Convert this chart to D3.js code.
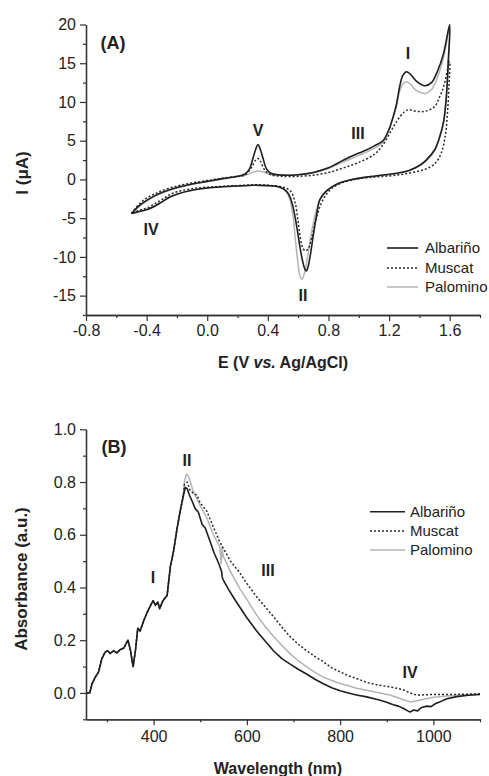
<!DOCTYPE html>
<html>
<head>
<meta charset="utf-8">
<script src="https://cdn.jsdelivr.net/npm/d3@7"></script>
<style>
  body { margin: 0; background: #fff; }
  svg { font-family: "Liberation Sans", Arial, sans-serif; }
</style>
</head>
<body>
<script>
// ---- panel A: cyclic voltammograms, [E (V), I (uA)] ----
const albarinoFwd = [[-0.5,-4.4],[-0.45,-3.4],[-0.4,-2.7],[-0.35,-2.15],[-0.3,-1.7],[-0.2,-1.05],[-0.1,-0.6],[0.0,-0.25],[0.1,0.1],[0.2,0.4],[0.25,0.7],[0.28,1.4],[0.3,2.6],[0.32,3.9],[0.335,4.5],[0.35,3.9],[0.37,2.6],[0.39,1.4],[0.42,0.8],[0.5,0.55],[0.6,0.6],[0.7,0.9],[0.8,1.5],[0.86,2.1],[0.94,2.9],[1.0,3.4],[1.05,3.8],[1.1,4.3],[1.16,5.0],[1.2,6.5],[1.23,8.3],[1.25,9.8],[1.27,12.0],[1.29,13.4],[1.315,13.9],[1.34,13.6],[1.38,12.7],[1.435,12.1],[1.48,12.5],[1.52,14.0],[1.56,16.3],[1.6,20.0]];
const albarinoRev = [[1.6,20.0],[1.59,15.0],[1.578,10.7],[1.56,7.5],[1.534,5.5],[1.5,3.8],[1.445,2.5],[1.4,1.8],[1.336,1.2],[1.25,0.8],[1.16,0.57],[1.05,0.3],[0.94,-0.08],[0.88,-0.4],[0.82,-1.0],[0.78,-1.6],[0.743,-2.6],[0.72,-4.8],[0.7,-7.2],[0.68,-9.8],[0.665,-11.3],[0.655,-11.8],[0.645,-11.6],[0.63,-10.6],[0.611,-8.6],[0.59,-6.0],[0.567,-3.6],[0.545,-2.2],[0.522,-1.5],[0.48,-1.0],[0.4,-0.8],[0.3,-0.75],[0.2,-0.85],[0.1,-0.95],[0.0,-1.1],[-0.1,-1.4],[-0.2,-1.9],[-0.25,-2.3],[-0.3,-2.9],[-0.35,-3.5],[-0.4,-3.9],[-0.45,-4.15],[-0.5,-4.4]];

const muscatFwd = [[-0.5,-4.4],[-0.45,-3.2],[-0.4,-2.4],[-0.35,-1.9],[-0.3,-1.45],[-0.2,-0.85],[-0.1,-0.45],[0.0,-0.15],[0.1,0.15],[0.2,0.4],[0.25,0.6],[0.29,1.5],[0.32,2.5],[0.335,2.7],[0.35,2.4],[0.38,1.2],[0.42,0.6],[0.5,0.4],[0.6,0.4],[0.7,0.55],[0.8,0.9],[0.9,1.5],[1.0,2.2],[1.1,3.2],[1.15,4.2],[1.2,5.8],[1.25,7.5],[1.3,8.7],[1.33,9.0],[1.38,8.8],[1.44,8.8],[1.5,9.4],[1.53,10.5],[1.56,12.0],[1.6,15.2]];
const muscatRev = [[1.6,15.2],[1.595,12.0],[1.585,8.5],[1.57,5.5],[1.54,3.2],[1.5,2.0],[1.45,1.4],[1.4,1.1],[1.3,0.7],[1.2,0.45],[1.1,0.3],[1.0,0.1],[0.95,-0.1],[0.88,-0.5],[0.82,-1.2],[0.78,-2.1],[0.75,-3.2],[0.72,-5.0],[0.69,-7.5],[0.665,-9.0],[0.645,-9.2],[0.625,-8.5],[0.6,-5.5],[0.58,-3.0],[0.55,-1.5],[0.5,-1.0],[0.4,-0.75],[0.3,-0.7],[0.2,-0.8],[0.1,-0.9],[0.0,-1.0],[-0.1,-1.2],[-0.2,-1.6],[-0.25,-2.0],[-0.3,-2.6],[-0.35,-3.2],[-0.4,-3.7],[-0.45,-4.0],[-0.5,-4.4]];

const palominoFwd = [[-0.5,-4.4],[-0.45,-3.5],[-0.4,-2.8],[-0.35,-2.2],[-0.3,-1.75],[-0.2,-1.1],[-0.1,-0.65],[0.0,-0.3],[0.1,0.05],[0.2,0.35],[0.25,0.55],[0.3,0.9],[0.335,1.1],[0.37,0.95],[0.42,0.65],[0.5,0.55],[0.6,0.6],[0.7,0.85],[0.8,1.4],[0.86,1.95],[0.94,2.6],[1.0,3.1],[1.05,3.5],[1.1,4.0],[1.16,4.8],[1.2,6.4],[1.23,8.2],[1.25,9.6],[1.27,11.4],[1.29,12.3],[1.315,12.6],[1.34,12.3],[1.38,11.5],[1.44,11.1],[1.48,11.6],[1.52,13.2],[1.56,15.8],[1.6,19.6]];
const palominoRev = [[1.6,19.6],[1.59,14.8],[1.578,10.6],[1.56,7.4],[1.534,5.4],[1.5,3.7],[1.445,2.4],[1.4,1.75],[1.336,1.15],[1.25,0.75],[1.16,0.55],[1.05,0.3],[0.94,-0.1],[0.88,-0.45],[0.82,-1.05],[0.78,-1.7],[0.743,-2.7],[0.72,-4.0],[0.7,-5.6],[0.68,-7.8],[0.66,-10.2],[0.64,-12.2],[0.625,-12.9],[0.61,-12.3],[0.595,-10.2],[0.58,-7.4],[0.567,-4.8],[0.545,-2.6],[0.522,-1.6],[0.48,-1.05],[0.4,-0.8],[0.3,-0.75],[0.2,-0.85],[0.1,-0.95],[0.0,-1.1],[-0.1,-1.4],[-0.2,-1.9],[-0.25,-2.3],[-0.3,-2.9],[-0.35,-3.5],[-0.4,-3.9],[-0.45,-4.15],[-0.5,-4.4]];

// ---- panel B: UV-vis spectra, [wavelength (nm), absorbance] ----
const spectrumCommon = [[256,0.0],[263,0.0],[268,0.035],[275,0.06],[282,0.08],[289,0.13],[296,0.155],[301,0.16],[307,0.15],[314,0.16],[321,0.152],[329,0.165],[336,0.17],[345,0.2],[350,0.165],[356,0.1],[361,0.16],[366,0.245],[371,0.235],[379,0.275],[386,0.305],[393,0.33],[399,0.35],[404,0.332],[409,0.345],[413,0.32],[420,0.35],[429,0.37],[436,0.48],[443,0.54],[450,0.62],[457,0.69],[464,0.75]];
const albarinoTail = [[468,0.78],[472,0.775],[477,0.75],[482,0.73],[489,0.70],[496,0.685],[504,0.64],[511,0.625],[521,0.575],[530,0.53],[540,0.49],[546,0.46],[547,0.44],[549,0.43],[560,0.395],[572,0.36],[585,0.325],[600,0.285],[621,0.235],[640,0.195],[657,0.16],[675,0.13],[692,0.11],[710,0.09],[728,0.072],[746,0.052],[764,0.035],[782,0.02],[800,0.008],[818,0.0],[835,-0.008],[857,-0.015],[880,-0.025],[900,-0.035],[914,-0.045],[925,-0.05],[935,-0.058],[945,-0.068],[950,-0.072],[958,-0.065],[966,-0.068],[975,-0.055],[986,-0.05],[995,-0.052],[1005,-0.04],[1015,-0.033],[1029,-0.022],[1050,-0.014],[1075,-0.009],[1100,-0.006]];
const muscatTail = [[466,0.79],[472,0.80],[478,0.77],[485,0.757],[493,0.75],[500,0.72],[507,0.705],[514,0.69],[521,0.66],[528,0.63],[540,0.58],[549,0.55],[565,0.5],[585,0.455],[600,0.415],[621,0.365],[640,0.325],[657,0.29],[675,0.25],[692,0.215],[710,0.185],[728,0.16],[746,0.138],[764,0.118],[782,0.095],[800,0.08],[818,0.065],[835,0.055],[857,0.04],[880,0.03],[900,0.025],[921,0.018],[935,0.012],[950,0.0],[964,-0.008],[1000,-0.006],[1036,-0.006],[1071,-0.005],[1100,-0.003]];
const palominoTail = [[466,0.8],[470,0.83],[474,0.825],[479,0.8],[484,0.77],[489,0.75],[500,0.71],[514,0.665],[528,0.6],[542,0.555],[545,0.49],[547,0.555],[549,0.52],[565,0.46],[585,0.395],[600,0.355],[621,0.295],[640,0.25],[657,0.215],[675,0.18],[692,0.15],[710,0.122],[728,0.1],[746,0.078],[764,0.06],[782,0.047],[800,0.036],[818,0.027],[835,0.018],[857,0.01],[880,0.002],[907,-0.008],[930,-0.022],[950,-0.034],[970,-0.028],[1000,-0.016],[1030,-0.012],[1060,-0.008],[1100,-0.004]];

const seriesNames = ['Albariño', 'Muscat', 'Palomino'];
const cvTicksX = [-0.8, -0.4, 0.0, 0.4, 0.8, 1.2, 1.6];
const cvTicksY = [-15, -10, -5, 0, 5, 10, 15, 20];
const uvTicksX = [400, 600, 800, 1000];
const uvTicksY = [0.0, 0.2, 0.4, 0.6, 0.8, 1.0];

const styles = {
  'Albariño': { stroke: '#1e1e1e', width: 1.6, dash: null },
  'Muscat':   { stroke: '#2a2a2a', width: 1.5, dash: '2,2' },
  'Palomino': { stroke: '#b4b4b4', width: 1.5, dash: null },
};
const drawOrder = ['Palomino', 'Muscat', 'Albariño'];

function main() {
  const width = 489;
  const height = 776;
  const svg = d3.select('body').append('svg')
    .attr('width', width)
    .attr('height', height);

  const axisColor = '#333';
  const textColor = '#222';

  function styleAxis(g) {
    g.selectAll('path.domain').attr('stroke', axisColor).attr('stroke-width', 1.3);
    g.selectAll('.tick line').attr('stroke', axisColor).attr('stroke-width', 1.2);
    g.selectAll('.tick text').attr('fill', textColor).style('font-size', '16px')
      .style('font-family', '"Liberation Sans", Arial, sans-serif');
  }

  function drawAxes(x, y, xMajor, xMinor, yMajor, yMinor, fmtX, fmtY, xPad) {
    const y0 = y.range()[0];
    const x0 = x.range()[0];
    svg.append('g').attr('transform', `translate(0,${y0})`)
      .call(d3.axisBottom(x).tickValues(xMinor).tickSize(3).tickSizeOuter(0).tickFormat(''))
      .call(styleAxis);
    svg.append('g').attr('transform', `translate(0,${y0})`)
      .call(d3.axisBottom(x).tickValues(xMajor).tickSize(6).tickSizeOuter(0).tickPadding(xPad).tickFormat(fmtX))
      .call(styleAxis);
    svg.append('g').attr('transform', `translate(${x0},0)`)
      .call(d3.axisLeft(y).tickValues(yMinor).tickSize(3).tickSizeOuter(0).tickFormat(''))
      .call(styleAxis);
    svg.append('g').attr('transform', `translate(${x0},0)`)
      .call(d3.axisLeft(y).tickValues(yMajor).tickSize(6).tickSizeOuter(0).tickPadding(4).tickFormat(fmtY))
      .call(styleAxis);
  }

  function drawLegend(x1, x2, tx, rows) {
    seriesNames.forEach((name, i) => {
      const s = styles[name];
      svg.append('line')
        .attr('x1', x1).attr('x2', x2).attr('y1', rows[i]).attr('y2', rows[i])
        .attr('stroke', s.stroke).attr('stroke-width', s.width)
        .attr('stroke-dasharray', s.dash);
      svg.append('text')
        .attr('x', tx).attr('y', rows[i]).attr('dy', '0.35em')
        .attr('fill', textColor).style('font-size', '15px')
        .text(name);
    });
  }

  function label(x, y, txt, size) {
    svg.append('text')
      .attr('x', x).attr('y', y).attr('dy', '0.35em')
      .attr('text-anchor', 'middle')
      .attr('fill', textColor)
      .style('font-size', (size || 16) + 'px')
      .style('font-weight', 'bold')
      .text(txt);
  }

  const fmt1 = d => d.toFixed(1);

  // ---------- panel A ----------
  const xA = d3.scaleLinear().domain([-0.8, 1.8]).range([86, 480]);
  const yA = d3.scaleLinear().domain([-17.5, 20]).range([315, 24.5]);

  drawAxes(xA, yA, cvTicksX, d3.range(-0.6, 1.81, 0.4), cvTicksY, d3.range(-17.5, 20, 5),
    fmt1, d => String(d), 4);

  const cvLine = d3.line()
    .x(d => xA(d[0]))
    .y(d => yA(d[1]))
    .curve(d3.curveCatmullRom.alpha(0.5));

  const cvData = {
    'Albariño': albarinoFwd.concat(albarinoRev.slice(1)),
    'Muscat': muscatFwd.concat(muscatRev.slice(1)),
    'Palomino': palominoFwd.concat(palominoRev.slice(1)),
  };

  svg.append('g')
    .selectAll('path')
    .data(drawOrder)
    .enter()
    .append('path')
    .attr('d', d => cvLine(cvData[d]))
    .attr('fill', 'none')
    .attr('stroke', d => styles[d].stroke)
    .attr('stroke-width', d => styles[d].width)
    .attr('stroke-dasharray', d => styles[d].dash)
    .attr('stroke-linejoin', 'round');

  drawLegend(387, 418, 425, [248, 268, 287]);

  label(113, 43, '(A)', 18);
  label(408, 53, 'I');
  label(258, 130, 'V');
  label(358, 133, 'III');
  label(151, 229, 'IV');
  label(303, 295, 'II');

  label(283, 362, '', 16);
  const titleA = svg.append('text')
    .attr('x', 283).attr('y', 362).attr('dy', '0.35em')
    .attr('text-anchor', 'middle')
    .attr('fill', textColor)
    .style('font-size', '16px').style('font-weight', 'bold');
  titleA.append('tspan').text('E (V ');
  titleA.append('tspan').style('font-style', 'italic').text('vs.');
  titleA.append('tspan').text(' Ag/AgCl)');

  svg.append('text')
    .attr('transform', 'translate(22,173) rotate(-90)')
    .attr('dy', '0.35em')
    .attr('text-anchor', 'middle')
    .attr('fill', textColor)
    .style('font-size', '17px').style('font-weight', 'bold')
    .text('I (μA)');

  // ---------- panel B ----------
  const xB = d3.scaleLinear().domain([255, 1100]).range([86, 480]);
  const yB = d3.scaleLinear().domain([-0.1, 1.0]).range([719.3, 429.3]);

  drawAxes(xB, yB, uvTicksX, [300, 500, 700, 900, 1100], uvTicksY,
    [-0.1, 0.1, 0.3, 0.5, 0.7, 0.9], d => String(d), fmt1, 5);

  const uvLine = d3.line()
    .x(d => xB(d[0]))
    .y(d => yB(d[1]));

  const uvData = {
    'Albariño': spectrumCommon.concat(albarinoTail),
    'Muscat': spectrumCommon.concat(muscatTail),
    'Palomino': spectrumCommon.concat(palominoTail),
  };

  svg.append('g')
    .selectAll('path')
    .data(drawOrder)
    .enter()
    .append('path')
    .attr('d', d => uvLine(uvData[d]))
    .attr('fill', 'none')
    .attr('stroke', d => styles[d].stroke)
    .attr('stroke-width', d => styles[d].width)
    .attr('stroke-dasharray', d => styles[d].dash)
    .attr('stroke-linejoin', 'round');

  drawLegend(370, 405, 410, [511.7, 531, 550]);

  label(114, 447, '(B)', 18);
  label(187, 460, 'II');
  label(153, 577, 'I');
  label(268, 570, 'III');
  label(410, 672, 'IV');

  svg.append('text')
    .attr('x', 278).attr('y', 768).attr('dy', '0.35em')
    .attr('text-anchor', 'middle')
    .attr('fill', textColor)
    .style('font-size', '16px').style('font-weight', 'bold')
    .text('Wavelength (nm)');

  svg.append('text')
    .attr('transform', 'translate(21,579) rotate(-90)')
    .attr('dy', '0.35em')
    .attr('text-anchor', 'middle')
    .attr('fill', textColor)
    .style('font-size', '17px').style('font-weight', 'bold')
    .text('Absorbance (a.u.)');
}

main();
</script>
</body>
</html>
